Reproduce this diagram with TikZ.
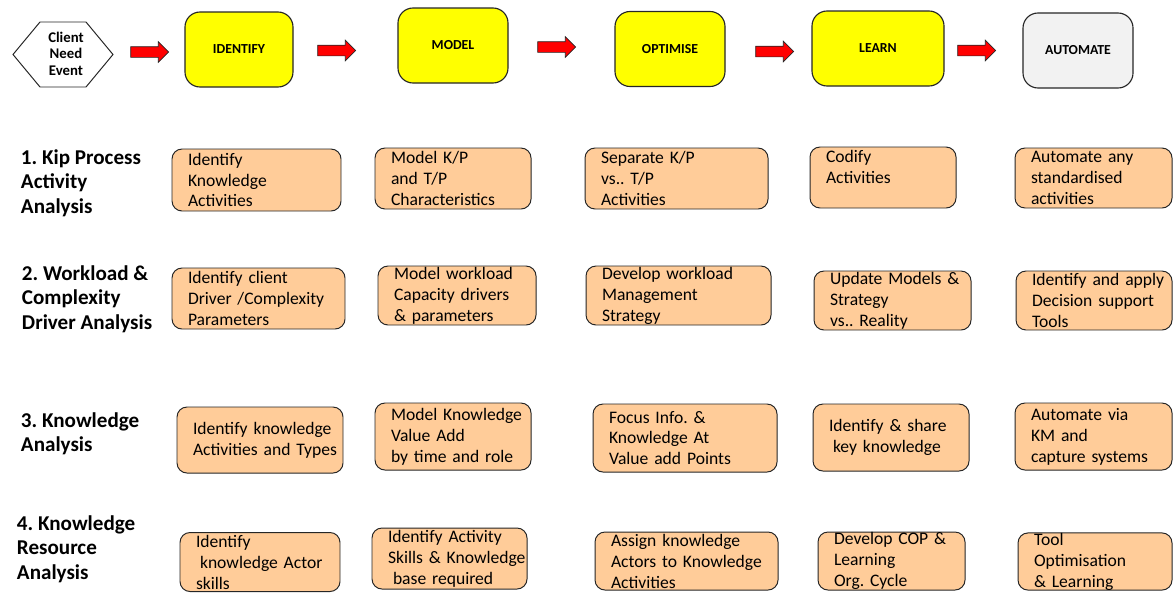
\documentclass[tikz,border=0pt]{standalone}
\usepackage{fontspec}
\setmainfont{Carlito}
\usepackage{tikz}
\usetikzlibrary{shapes.arrows}
\definecolor{stageyellow}{RGB}{255,255,0}
\definecolor{stagegrey}{RGB}{242,242,242}
\definecolor{taskorange}{RGB}{255,204,153}
\definecolor{flowred}{RGB}{255,0,0}
\definecolor{edgegrey}{RGB}{38,38,38}
\newlength{\upx}
\setlength{\upx}{0.025cm}
\frenchspacing

\begin{document}
\begin{tikzpicture}[x=1\upx, y=-1\upx,
  stage/.style={draw=edgegrey, line width=0.8pt, rounded corners=15\upx, fill=stageyellow,
    minimum width=110\upx, minimum height=75\upx, font=\fontsize{9.8}{11.5}\selectfont\bfseries},
  flow/.style={single arrow, draw=edgegrey, line width=0.5pt, fill=flowred, inner xsep=0pt,
    inner ysep=5\upx, minimum height=38\upx, minimum width=20\upx, single arrow head extend=5\upx},
  task/.style={draw=edgegrey, line width=0.7pt, rounded corners=10\upx, fill=taskorange,
    inner xsep=16\upx, inner ysep=0pt, align=left, font=\fontsize{12.5}{14.9}\selectfont,
    execute at begin node={\hyphenpenalty=10000\relax}},
  rowlabel/.style={anchor=west, align=left, inner sep=0pt, font=\fontsize{15}{17.4}\selectfont\bfseries}]
\useasboundingbox (0,0) rectangle (1174,592);

% Stages
\draw[draw=edgegrey, line width=0.7pt] (13,54.5) -- (40,22) -- (86,22) -- (113,54.5) -- (86,87) -- (40,87) -- cycle;
\node[align=center, font=\fontsize{10.5}{11.8}\selectfont\bfseries] (event) at (66,53.5) {Client\\Need\\Event};
\node[stage, minimum width=108\upx] (identify) at (239,49.5) {IDENTIFY};
\node[stage] (model) at (453,45.5) {MODEL};
\node[stage] (optimise) at (670,49) {OPTIMISE};
\node[stage, minimum width=132\upx] (learn) at (878,48.5) {LEARN};
\node[stage, fill=stagegrey] (automate) at (1078,50.5) {AUTOMATE};

\node[flow] (arr1) at (147,52) {};
\node[flow] (arr2) at (334,50.5) {};
\node[flow] (arr3) at (554,47) {};
\node[flow] (arr4) at (772,51.5) {};
\node[flow] (arr5) at (974,50.5) {};

% Row labels
\node[rowlabel] (kip) at (20.7,183) {1. Kip Process\\Activity\\Analysis};
\node[rowlabel] (workload) at (21.7,299) {2. Workload \&\\Complexity\\Driver Analysis};
\node[rowlabel] (knowledge) at (20.7,433.5) {3. Knowledge\\Analysis};
\node[rowlabel] (resource) at (16.7,549) {4. Knowledge\\Resource\\Analysis};

% Row 1
\node[task, text width=137\upx, minimum height=62\upx] (kip1) at (256.5,180) {Identify\\Knowledge\\Activities};
\node[task, text width=124\upx, minimum height=61\upx] (kip2) at (453,178.5) {Model~K/P\\and~T/P\\Characteristics};
\node[task, text width=151\upx, minimum height=61\upx] (kip3) at (676.5,178.5) {Separate~K/P\\vs..~T/P\\Activities};
\node[task, text width=114\upx, minimum height=61\upx] (kip4) at (883,177.5) {Codify\\Activities\\\mbox{}};
\node[task, text width=125\upx, minimum height=60\upx] (kip5) at (1093.5,178) {Automate~any\\standardised\\activities};

% Row 2
\node[task, text width=141\upx, minimum height=61\upx] (wl1) at (258.5,298.5) {Identify~client\\Driver~/Complexity\\Parameters};
\node[task, text width=126\upx, minimum height=59\upx] (wl2) at (457,295.5) {Model~workload\\Capacity~drivers\\\&~parameters};
\node[task, text width=153\upx, minimum height=59\upx] (wl3) at (678.5,295.5) {Develop~workload\\Management\\Strategy};
\node[task, text width=125\upx, minimum height=59\upx] (wl4) at (892.5,300.5) {Update~Models~\&\\Strategy\\vs..~Reality};
\node[task, text width=124\upx, minimum height=59\upx] (wl5) at (1094,300.5) {Identify~and~apply\\Decision~support\\Tools};

% Row 3
\node[task, text width=134\upx, minimum height=66\upx] (kn1) at (260,440) {Identify~knowledge\\Activities~and~Types};
\node[task, text width=124\upx, minimum height=67\upx] (kn2) at (453,436.5) {Model~Knowledge\\Value~Add\\by~time~and~role};
\node[task, text width=152\upx, minimum height=68\upx] (kn3) at (685,438) {Focus~Info.~\&\\Knowledge~At\\Value~add~Points};
\node[task, text width=124\upx, minimum height=67\upx] (kn4) at (891,437.5) {Identify~\&~share\\\hspace*{4\upx}key~knowledge};
\node[task, text width=125\upx, minimum height=67\upx] (kn5) at (1093.5,436.5) {Automate~via\\KM~and\\capture~systems};

% Row 4
\node[task, text width=128\upx, minimum height=59\upx] (res1) at (260,562) {Identify\\\hspace*{4\upx}knowledge~Actor\\skills};
\node[task, text width=123\upx, minimum height=61\upx] (res2) at (449.5,558.5) {Identify~Activity\\Skills~\&~Knowledge\\\hspace*{5\upx}base~required};
\node[task, text width=151\upx, minimum height=58\upx] (res3) at (686.5,561) {Assign~knowledge\\Actors~to~Knowledge\\Activities};
\node[task, text width=115\upx, minimum height=58\upx] (res4) at (891.5,561) {Develop~COP~\&\\Learning\\Org.~Cycle};
\node[task, text width=122\upx, minimum height=57\upx] (res5) at (1095,561.5) {Tool\\Optimisation\\\&~Learning};
\end{tikzpicture}
\end{document}
